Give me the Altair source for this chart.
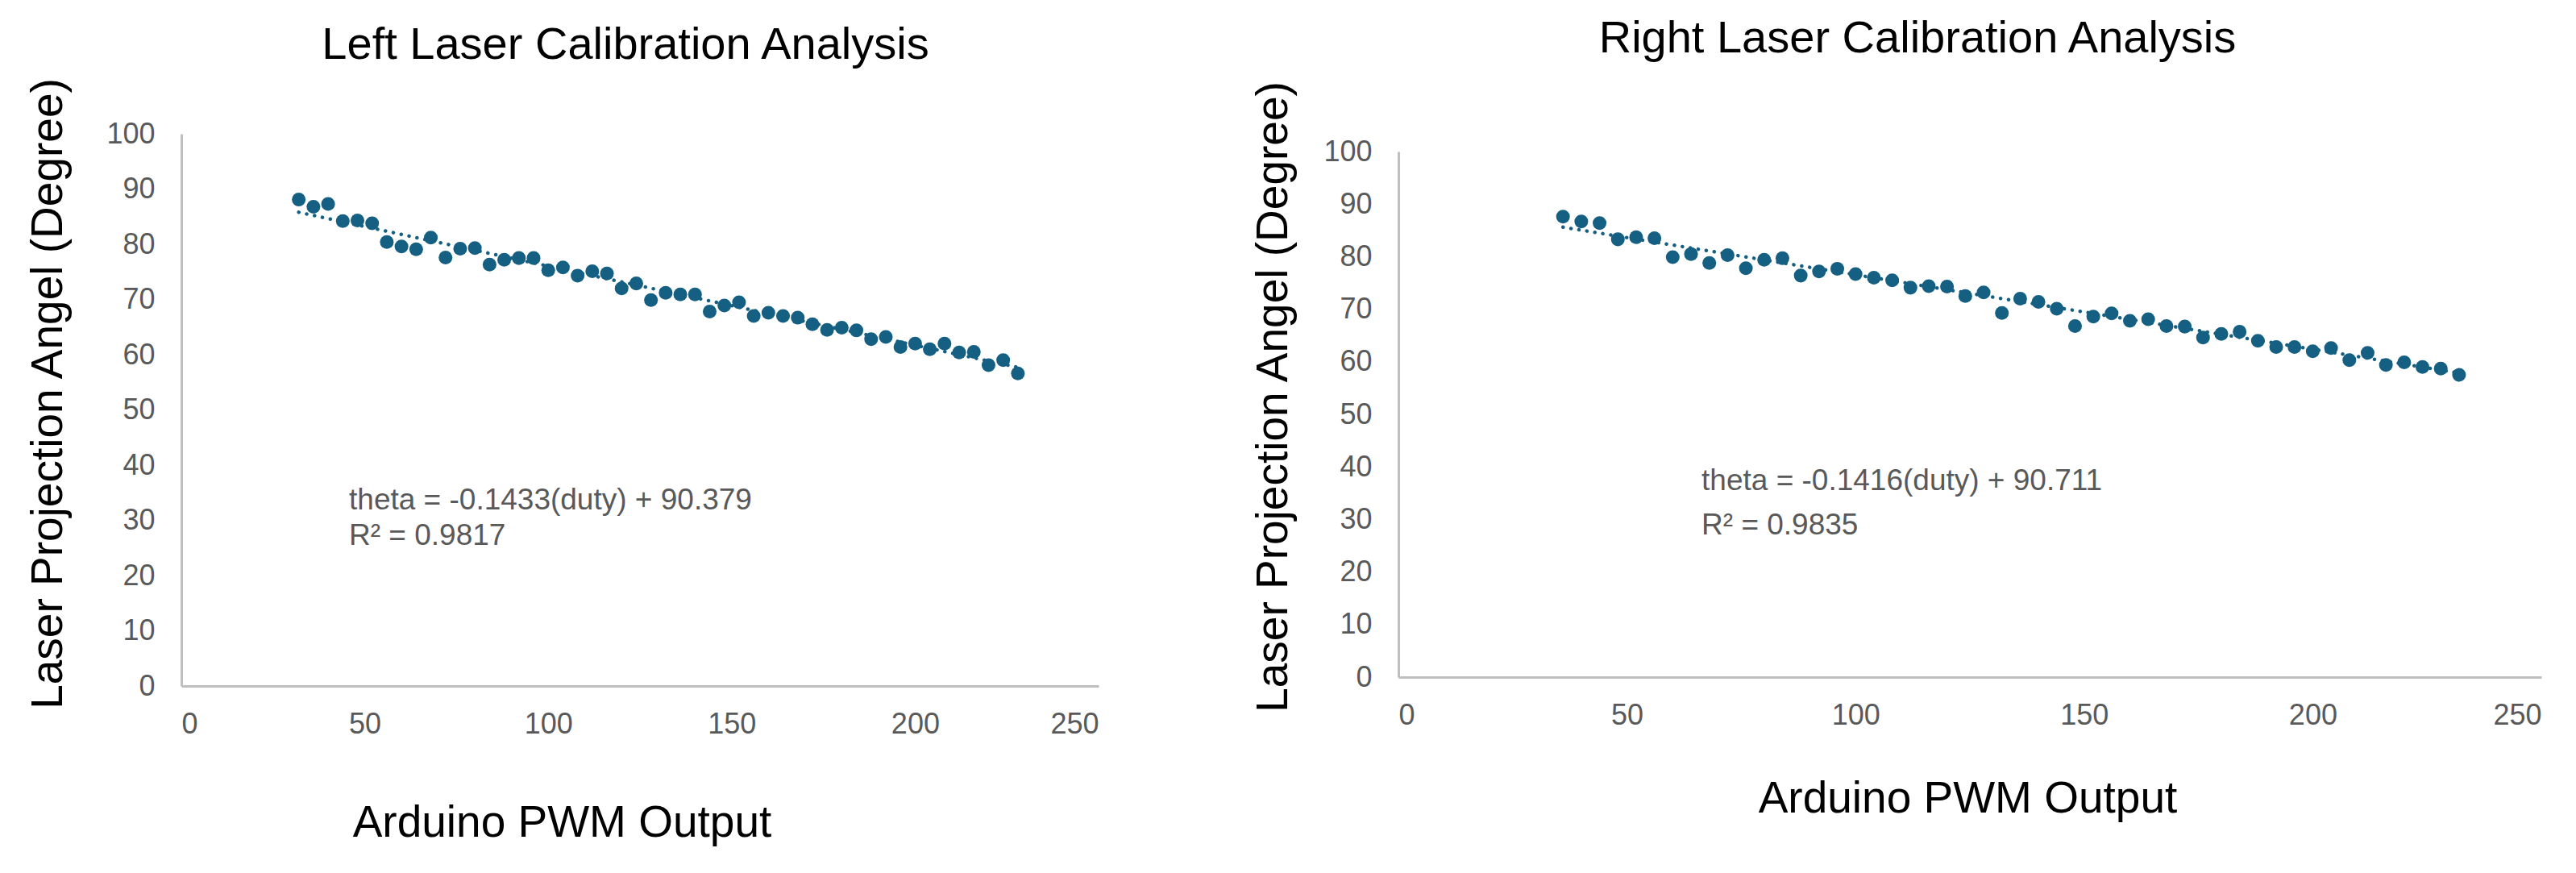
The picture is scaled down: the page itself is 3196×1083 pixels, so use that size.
import altair as alt
import pandas as pd

FONT = "Liberation Sans, Arial, sans-serif"
DOT = "#156082"

# ---- data ----
left_pwm = [32, 36, 40, 44, 48, 52, 56, 60, 64, 68,
            72, 76, 80, 84, 88, 92, 96, 100, 104, 108,
            112, 116, 120, 124, 128, 132, 136, 140, 144, 148,
            152, 156, 160, 164, 168, 172, 176, 180, 184, 188,
            192, 196, 200, 204, 208, 212, 216, 220, 224, 228]
left_angle = [88.1, 86.8, 87.3, 84.2, 84.3, 83.8, 80.4, 79.6, 79.1, 81.2,
              77.6, 79.2, 79.3, 76.3, 77.2, 77.5, 77.5, 75.3, 75.8, 74.3,
              75.1, 74.7, 72.0, 72.9, 69.9, 71.2, 70.9, 70.9, 67.8, 68.9,
              69.5, 67.0, 67.6, 67.0, 66.7, 65.5, 64.5, 64.9, 64.4, 62.8,
              63.2, 61.4, 62.0, 61.0, 62.0, 60.4, 60.5, 58.1, 59.0, 56.6]

right_pwm = [36, 40, 44, 48, 52, 56, 60, 64, 68, 72,
             76, 80, 84, 88, 92, 96, 100, 104, 108, 112,
             116, 120, 124, 128, 132, 136, 140, 144, 148, 152,
             156, 160, 164, 168, 172, 176, 180, 184, 188, 192,
             196, 200, 204, 208, 212, 216, 220, 224, 228, 232]
right_angle = [87.6, 86.7, 86.4, 83.3, 83.7, 83.5, 79.9, 80.5, 78.8, 80.3,
               77.8, 79.4, 79.7, 76.4, 77.2, 77.7, 76.7, 76.0, 75.5, 74.1,
               74.4, 74.3, 72.5, 73.2, 69.3, 72.0, 71.4, 70.1, 66.8, 68.6,
               69.2, 67.8, 68.1, 66.8, 66.7, 64.6, 65.3, 65.7, 64.0, 62.8,
               62.8, 62.0, 62.6, 60.3, 61.7, 59.4, 59.9, 59.0, 58.7, 57.5]

# linear trend coefficients shown on the chart
left_fit = (-0.1433, 90.379)
right_fit = (-0.1416, 90.711)

left_labels = ["theta = -0.1433(duty) + 90.379", " R\u00b2 = 0.9817"]
left_label_x = [45.7, 45.7]
left_label_y = [31.9, 25.6]
right_labels = ["theta = -0.1416(duty) + 90.711", " R\u00b2 = 0.9835"]
right_label_x = [66.3, 66.3]
right_label_y = [35.6, 27.2]

x_ticks = [0, 50, 100, 150, 200, 250]
y_ticks = [0, 10, 20, 30, 40, 50, 60, 70, 80, 90, 100]


def panel(pwm, angle, fit, labels, lx, ly, title, tdx, toff,
          width, height, ytop, xtx, xty, ytx, yty):
    pts = pd.DataFrame({"pwm": pwm, "angle": angle})
    m, b = fit
    trend = pd.DataFrame({"pwm": [pwm[0], pwm[-1]],
                          "angle": [m * pwm[0] + b, m * pwm[-1] + b]})
    ann = pd.DataFrame({"pwm": lx, "angle": ly, "txt": labels})

    xs = alt.Scale(domain=[0, 250], nice=False, zero=False)
    ys = alt.Scale(domain=[0, 100], nice=False, range=[height, ytop])
    xa = alt.Axis(values=x_ticks, title="Arduino PWM Output", titleX=xtx, titleY=xty,
                  titleBaseline="alphabetic", titleAlign="center", labelPadding=30)
    ya = alt.Axis(values=y_ticks, title="Laser Projection Angel (Degree)", titleX=ytx,
                  titleY=yty, titleAngle=270, titleBaseline="alphabetic",
                  titleAlign="center", labelPadding=33)
    X = alt.X("pwm:Q", scale=xs, axis=xa)
    Y = alt.Y("angle:Q", scale=ys, axis=ya)

    p = alt.Chart(pts).mark_circle(size=290, color=DOT, opacity=1).encode(x=X, y=Y)
    t = alt.Chart(trend).mark_line(color=DOT, strokeWidth=4.5, strokeCap="round",
                                   strokeDash=[0.1, 9.9]).encode(x=X, y=Y)
    a = alt.Chart(ann).mark_text(align="left", baseline="alphabetic", fontSize=37,
                                 font=FONT, color="#595959").encode(x=X, y=Y, text="txt:N")
    return alt.layer(p, t, a).properties(
        width=width, height=height,
        title=alt.TitleParams(title, fontSize=56, font=FONT, fontWeight="normal",
                              color="#000000", dx=tdx, offset=toff))


left = panel(left_pwm, left_angle, left_fit, left_labels, left_label_x, left_label_y,
             "Left Laser Calibration Analysis", -18, 10,
             1138, 685, 0, 472, 186, -149, 322)
right = panel(right_pwm, right_angle, right_fit, right_labels, right_label_x, right_label_y,
              "Right Laser Calibration Analysis", -65, 22,
              1418, 674, 22, 706, 167, -139, 326)

chart = alt.hconcat(left, right, spacing=188).configure_view(stroke=None).configure_axis(
    domainColor="#BFBFBF", domainWidth=3, ticks=False, tickSize=0, grid=False,
    labelFont=FONT, labelFontSize=36, labelColor="#595959",
    titleFont=FONT, titleFontSize=55, titleFontWeight="normal", titleColor="#000000"
).properties(padding={"left": 23, "top": 12, "right": 5, "bottom": 5}, background="white")

chart.save("out.html", embed_options={"renderer": "svg", "actions": False})
